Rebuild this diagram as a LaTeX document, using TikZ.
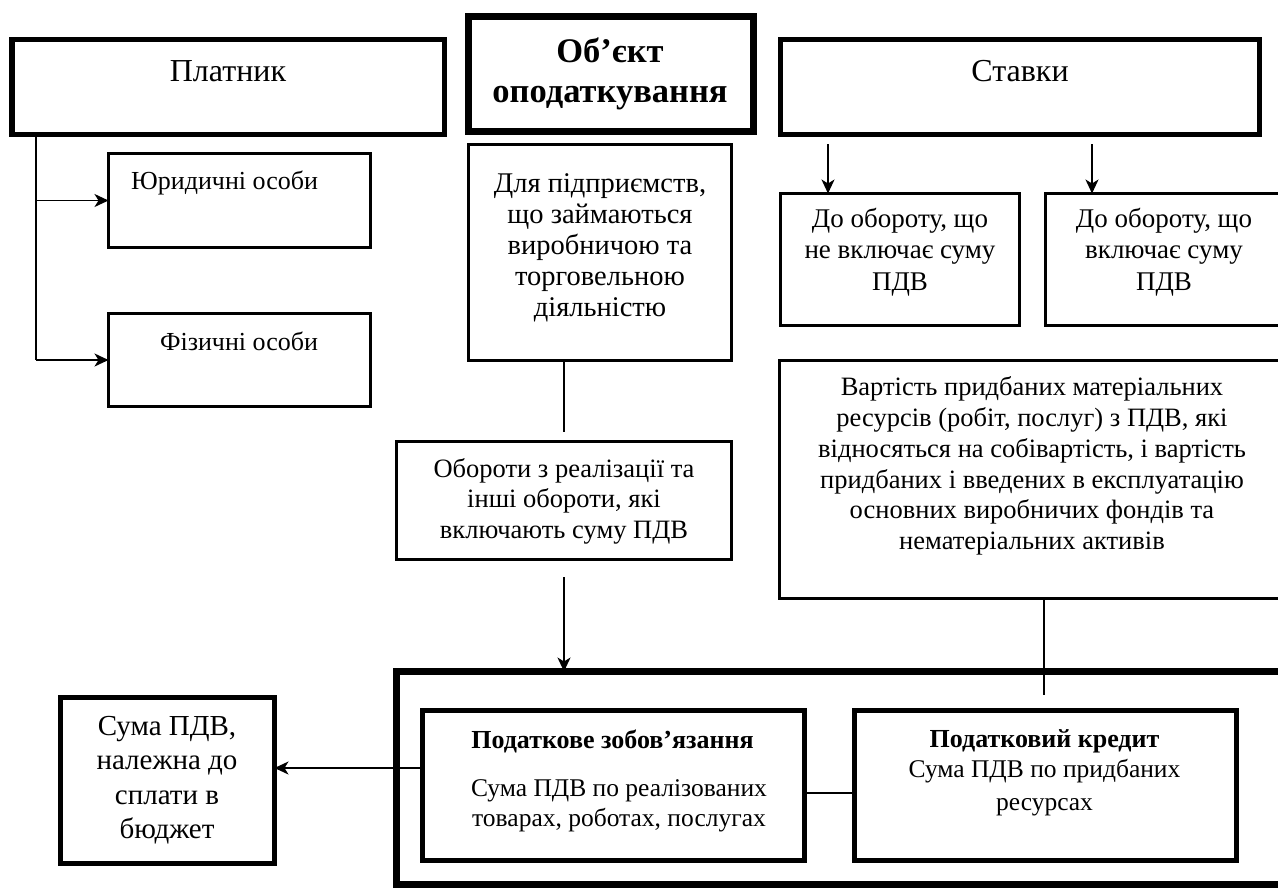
\documentclass[tikz,border=0pt]{standalone}
\usepackage{fontspec}
\setmainfont{Liberation Serif}
\usetikzlibrary{arrows.meta}
\tikzset{
  box/.style={draw, rectangle, line width=3pt, inner sep=0pt, outer sep=0pt},
  heavybox/.style={box, line width=5.5pt},
  lbl/.style={inner sep=0pt, align=center, font=\fontsize{26}{30.5}\selectfont},
  conn/.style={line width=1.7pt},
  arr/.style={conn, -{Stealth[length=14pt,width=13pt,inset=4pt]}},
}
\newcommand\bx[6]{\node[#6, anchor=north west, minimum width=#4pt-#2pt, minimum height=#5pt-#3pt] (#1) at (#2,#3) {};}
\begin{document}
\begin{tikzpicture}[x=1pt,y=-1pt]
\useasboundingbox (0,0) rectangle (1278,887);
\clip (0,0) rectangle (1278,887);
% boxes
\bx{plat}{12}{39.5}{444.5}{134.5}{heavybox}
\bx{obj}{468.5}{16.5}{753.5}{131.5}{heavybox, line width=6.5pt}
\bx{stav}{780.5}{39.5}{1259.5}{134.5}{heavybox}
\bx{jur}{108.5}{153.5}{370.5}{247.5}{box}
\bx{fiz}{108.5}{313.5}{370.5}{406.5}{box}
\bx{dlya}{468.5}{144.5}{731.5}{360.5}{box}
\bx{ne}{780.5}{193.5}{1019.5}{325.5}{box}
\bx{vkl}{1045.5}{193.5}{1290}{325.5}{box}
\bx{vart}{779.5}{360.5}{1290}{598.5}{box}
\bx{obor}{396.5}{441.5}{731.5}{559.5}{box}
\bx{frame}{396.5}{671.5}{1300}{884.5}{box, line width=7pt}
\bx{zob}{422.5}{710.5}{804.5}{860.5}{box, line width=5pt}
\bx{kred}{854.5}{710.5}{1236.5}{860.5}{box, line width=5pt}
\bx{suma}{60.5}{697.5}{274.5}{863.5}{heavybox}
% texts
\node[lbl, font=\fontsize{32}{36}\selectfont] (tplat) at (228,71.5) {Платник};
\node[lbl, font=\bfseries\fontsize{34.5}{40}\selectfont] (tobj) at (610,74) {Об’єкт\\оподаткування};
\node[lbl, font=\fontsize{32}{36}\selectfont] (tstav) at (1020,71.5) {Ставки};
\node[lbl, anchor=west] (tjur) at (131,183) {Юридичні особи};
\node[lbl] (tfiz) at (239,341) {Фізичні особи};
\node[lbl, font=\fontsize{28.5}{31}\selectfont] (tdlya) at (600,248) {Для підприємств,\\що займаються\\виробничою та\\торговельною\\діяльністю};
\node[lbl, font=\fontsize{27}{31.5}\selectfont] (tne) at (900,252) {До обороту, що\\не включає суму\\ПДВ};
\node[lbl, font=\fontsize{27}{31.5}\selectfont] (tvkl) at (1164,252) {До обороту, що\\включає суму\\ПДВ};
\node[lbl, font=\fontsize{26.5}{30.8}\selectfont] (tvart) at (1032,466) {Вартість придбаних матеріальних\\ресурсів (робіт, послуг) з ПДВ, які\\відносяться на собівартість, і вартість\\придбаних і введених в експлуатацію\\основних виробничих фондів та\\нематеріальних активів};
\node[lbl, font=\fontsize{26.5}{30.5}\selectfont] (tobor) at (564,501) {Обороти з реалізації та\\інші обороти, які\\включають суму ПДВ};
\node[lbl, font=\fontsize{29}{34.5}\selectfont] (tsuma) at (167,780) {Сума ПДВ,\\належна до\\сплати в\\бюджет};
\node[lbl, font=\bfseries\fontsize{26}{30}\selectfont] (tzob1) at (612.5,741) {Податкове зобов’язання};
\node[lbl, font=\fontsize{25.5}{30}\selectfont] (tzob2) at (619,806) {Сума ПДВ по реалізованих\\товарах, роботах, послугах};
\node[lbl, font=\bfseries\fontsize{26}{30}\selectfont] (tkred1) at (1044.5,741) {Податковий кредит};
\node[lbl, font=\fontsize{25.5}{33}\selectfont] (tkred2) at (1044.5,788) {Сума ПДВ по придбаних\\ресурсах};
% connectors
\coordinate (trunk) at (36,0);
\draw[conn] (plat.south -| trunk) -- (fiz.west -| trunk);
\draw[arr] (jur.west -| trunk) -- (jur.west);
\draw[arr] (fiz.west -| trunk) -- (fiz.west);
\coordinate (sa) at (828,144);
\coordinate (sb) at (1092,144);
\draw[arr] (sa) -- (sa |- ne.north);
\draw[arr] (sb) -- (sb |- vkl.north);
\coordinate (da) at (564,432);
\draw[conn] (dlya.south -| da) -- (da);
\coordinate (ob) at (564,577);
\draw[arr] (ob) -- (ob |- frame.north);
\coordinate (vb) at (1044,695);
\draw[conn] (vart.south -| vb) -- (vb);
\coordinate (zk) at (830,793);
\draw[conn] (zk -| zob.east) -- (zk -| kred.west);
\coordinate (zs) at (0,768);
\draw[arr] (zs -| zob.west) -- (zs -| suma.east);
\end{tikzpicture}
\end{document}
